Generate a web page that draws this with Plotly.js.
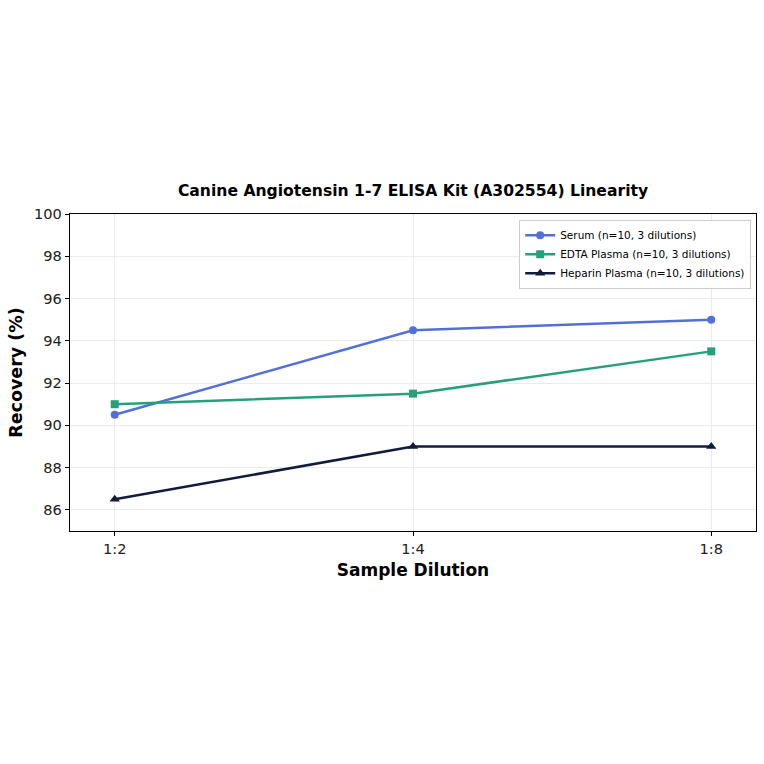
<!DOCTYPE html>
<html><head><meta charset="utf-8">
<script src="https://cdn.plot.ly/plotly-3.0.1.min.js"></script>
<style>html,body{margin:0;padding:0;background:#fff}#chart{width:764px;height:764px}</style>
</head><body><div id="chart"></div>
<script>
const dilutions = ["1:2", "1:4", "1:8"];
const serum = [90.5, 94.5, 95.0];
const edta = [91.0, 91.5, 93.5];
const heparin = [86.5, 89.0, 89.0];
const seriesNames = ["Serum (n=10, 3 dilutions)", "EDTA Plasma (n=10, 3 dilutions)", "Heparin Plasma (n=10, 3 dilutions)"];
const xIdx = dilutions.map((d, i) => i);

function tr(y, name, color, symbol, size) {
  return {x: xIdx, y: y, name: name, type: 'scatter', mode: 'lines+markers',
    line: {color: color, width: 2.5}, marker: {color: color, size: size, symbol: symbol}};
}
const data = [
  tr(serum, seriesNames[0], '#5470d8', 'circle', 8),
  tr(edta, seriesNames[1], '#26a07a', 'square', 8),
  tr(heparin, seriesNames[2], '#131b3c', 'triangle-up', 9)
];
const font = "DejaVu Sans, sans-serif";
const layout = {
  width: 764, height: 764,
  margin: {l: 70, r: 8, t: 214, b: 233},
  paper_bgcolor: '#fff', plot_bgcolor: '#fff',
  font: {family: font, color: '#000'},
  title: {text: "<b>Canine Angiotensin 1-7 ELISA Kit (A302554) Linearity</b>", font: {size: 15.6, family: font, color: '#000'},
    xref: 'paper', x: 0.5, xanchor: 'center', y: 1 - 191/764, yanchor: 'middle'},
  xaxis: {range: [-0.15, 2.15], tickvals: xIdx, ticktext: dilutions, showgrid: true, gridcolor: '#ebebeb', gridwidth: 1,
    showline: true, linecolor: '#000', linewidth: 1.2, mirror: true, ticks: 'outside', ticklen: 4, tickcolor: '#000',
    tickfont: {size: 14.6, family: font, color: '#222'}, zeroline: false,
    title: {text: "<b>Sample Dilution</b>", font: {size: 17, family: font}, standoff: 8}},
  yaxis: {range: [85, 100], tickvals: [86, 88, 90, 92, 94, 96, 98, 100], showgrid: true, gridcolor: '#ebebeb', gridwidth: 1,
    showline: true, linecolor: '#000', linewidth: 1.2, mirror: true, ticks: 'outside', ticklen: 4, tickcolor: '#000',
    tickfont: {size: 14.6, family: font, color: '#222'}, zeroline: false,
    title: {text: "<b>Recovery (%)</b>", font: {size: 17.5, family: font}, standoff: 6}},
  legend: {x: 0.993, y: 0.982, xanchor: 'right', yanchor: 'top', bgcolor: 'rgba(255,255,255,0.9)',
    bordercolor: '#ccc', borderwidth: 1, font: {size: 10.5, family: font}, tracegroupgap: 0, itemwidth: 30},
  showlegend: true
};
Plotly.newPlot('chart', data, layout, {displayModeBar: false, staticPlot: true});
</script></body></html>
